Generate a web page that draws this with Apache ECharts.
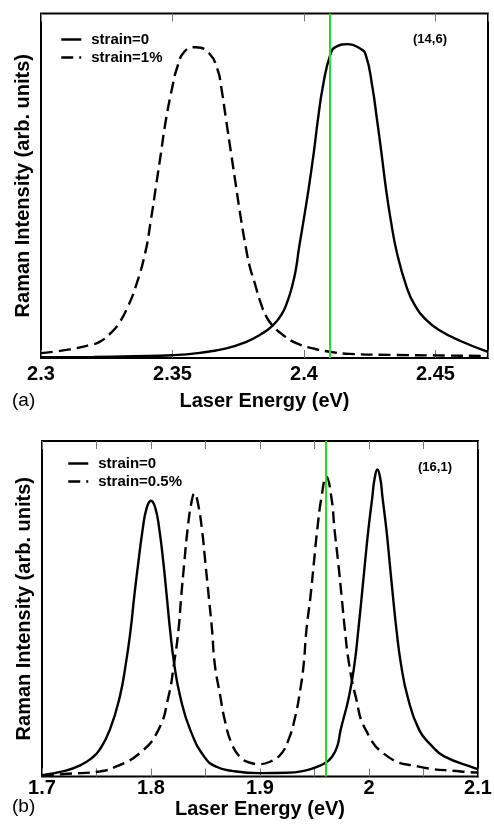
<!DOCTYPE html>
<html>
<head>
<meta charset="utf-8">
<script src="https://cdn.jsdelivr.net/npm/echarts@6/dist/echarts.min.js"></script>
<style>
html,body{margin:0;padding:0;background:#fff;}
#chart{width:494px;height:825px;}
</style>
</head>
<body>
<div id="chart"></div>
<script>
// ---------- Panel (a): (14,6) ----------
const aEnergy0 = [2.300, 2.320, 2.335, 2.350, 2.3604, 2.3705, 2.3781, 2.3832, 2.3880, 2.3914, 2.3939, 2.3958, 2.3971, 2.3980, 2.3999, 2.4019, 2.4037, 2.4053, 2.4072, 2.4100, 2.4123, 2.4168, 2.4212, 2.4235, 2.4260, 2.4278, 2.4295, 2.4311, 2.4330, 2.4354, 2.4390, 2.4421, 2.4466, 2.4517, 2.4593, 2.4700];
const aInten0  = [0.002, 0.003, 0.005, 0.008, 0.015, 0.028, 0.047, 0.067, 0.093, 0.125, 0.168, 0.217, 0.265, 0.313, 0.401, 0.497, 0.594, 0.691, 0.788, 0.880, 0.904, 0.911, 0.899, 0.880, 0.788, 0.691, 0.594, 0.497, 0.401, 0.304, 0.207, 0.154, 0.110, 0.080, 0.050, 0.018];
const aEnergy1 = [2.300, 2.311, 2.3187, 2.3221, 2.3265, 2.3300, 2.3332, 2.3360, 2.3396, 2.3418, 2.3437, 2.3456, 2.3475, 2.3500, 2.3515, 2.3545, 2.3589, 2.3640, 2.3672, 2.3685, 2.3704, 2.3723, 2.3742, 2.3761, 2.3781, 2.3794, 2.3813, 2.3832, 2.3857, 2.3882, 2.3920, 2.3971, 2.4034, 2.4098, 2.4174, 2.4340, 2.4700];
const aInten1  = [0.014, 0.025, 0.038, 0.046, 0.072, 0.105, 0.152, 0.207, 0.304, 0.401, 0.497, 0.594, 0.691, 0.788, 0.836, 0.889, 0.902, 0.884, 0.836, 0.788, 0.691, 0.594, 0.497, 0.401, 0.313, 0.265, 0.217, 0.168, 0.120, 0.093, 0.067, 0.043, 0.028, 0.018, 0.012, 0.009, 0.006];
const aNames = ['strain=0', 'strain=1%'];
const aTicks = [2.3, 2.35, 2.4, 2.45];
const aLaser = 2.41;
const aTube = '(14,6)';

// ---------- Panel (b): (16,1) ----------
const bEnergy0 = [1.700, 1.720, 1.735, 1.746, 1.7529, 1.7622, 1.7714, 1.7770, 1.7813, 1.7846, 1.7883, 1.7923, 1.7960, 1.8000, 1.8040, 1.8077, 1.8114, 1.8145, 1.8175, 1.8212, 1.8268, 1.8360, 1.8493, 1.8600, 1.8754, 1.9000, 1.9246, 1.9431, 1.9523, 1.9600, 1.9661, 1.9708, 1.9740, 1.9816, 1.9868, 1.9902, 1.9933, 1.9963, 1.9994, 2.0031, 2.0050, 2.0077, 2.0105, 2.0123, 2.0160, 2.0190, 2.0220, 2.0252, 2.0292, 2.0354, 2.0460, 2.0580, 2.0690, 2.0970, 2.1000];
const bInten0  = [0.004, 0.016, 0.033, 0.056, 0.080, 0.139, 0.238, 0.338, 0.437, 0.536, 0.636, 0.735, 0.800, 0.822, 0.800, 0.735, 0.636, 0.536, 0.437, 0.338, 0.238, 0.139, 0.057, 0.029, 0.016, 0.010, 0.011, 0.019, 0.029, 0.041, 0.059, 0.089, 0.139, 0.238, 0.338, 0.437, 0.536, 0.636, 0.735, 0.834, 0.885, 0.915, 0.885, 0.834, 0.735, 0.636, 0.536, 0.437, 0.338, 0.238, 0.139, 0.090, 0.060, 0.025, 0.022];
const bEnergy1 = [1.700, 1.723, 1.753, 1.7683, 1.7898, 1.8068, 1.8160, 1.8212, 1.8252, 1.8277, 1.8305, 1.8335, 1.8370, 1.8400, 1.8430, 1.8468, 1.8499, 1.8530, 1.8560, 1.8585, 1.8631, 1.8677, 1.8739, 1.8815, 1.8908, 1.9000, 1.9092, 1.9185, 1.9261, 1.9323, 1.9369, 1.9400, 1.9426, 1.9463, 1.9494, 1.9525, 1.9565, 1.9608, 1.9654, 1.9684, 1.9718, 1.9749, 1.9779, 1.9816, 1.9878, 1.9970, 2.0170, 2.0446, 2.0840, 2.1000];
const bInten1  = [0.002, 0.008, 0.015, 0.030, 0.070, 0.139, 0.238, 0.338, 0.437, 0.536, 0.636, 0.735, 0.815, 0.844, 0.815, 0.735, 0.636, 0.536, 0.437, 0.335, 0.248, 0.168, 0.099, 0.059, 0.041, 0.037, 0.044, 0.064, 0.109, 0.178, 0.258, 0.332, 0.437, 0.536, 0.636, 0.735, 0.834, 0.894, 0.834, 0.735, 0.636, 0.536, 0.437, 0.338, 0.238, 0.139, 0.060, 0.030, 0.015, 0.012];
const bNames = ['strain=0', 'strain=0.5%'];
const bTicks = [1.7, 1.8, 1.9, 2.0, 2.1];
const bLaser = 1.96;
const bTube = '(16,1)';

const xTitle = 'Laser Energy (eV)';
const yTitle = 'Raman Intensity (arb. units)';
const panelTags = ['(a)', '(b)'];

// ---------- build ----------
const FONT = 'Liberation Sans, Arial, Helvetica, sans-serif';
const zip = (xs, ys) => xs.map((x, i) => [x, ys[i]]);
const isTick = (list) => (v) => list.some(t => Math.abs(t - v) < 1e-6) ? String(+v.toFixed(2)) : '';
const GREEN = '#22dd22';

function bottomAxis(gi, min, max, ticks, margin, nameGap) {
  return {
    type: 'value', gridIndex: gi, position: 'bottom', min, max, interval: 0.05,
    axisLine: { show: false },
    axisTick: { show: true, inside: true, length: 8, lineStyle: { color: '#777', width: 1 } },
    axisLabel: { show: true, margin, color: '#000', fontSize: 20, fontWeight: 'bold', fontFamily: FONT,
                 formatter: isTick(ticks), showMaxLabel: true, showMinLabel: true, hideOverlap: false },
    splitLine: { show: false },
    name: xTitle, nameLocation: 'middle', nameGap,
    nameTextStyle: { color: '#000', fontSize: 20, fontWeight: 'bold', fontFamily: FONT }
  };
}
function topAxis(gi, min, max) {
  return {
    type: 'value', gridIndex: gi, position: 'top', min, max, interval: 0.05,
    axisLine: { show: false },
    axisTick: { show: true, inside: true, length: 8, lineStyle: { color: '#777', width: 1 } },
    axisLabel: { show: false }, splitLine: { show: false }
  };
}
function yAxisDef(gi) {
  return {
    type: 'value', gridIndex: gi, min: 0, max: 1,
    axisLine: { show: false }, axisTick: { show: false }, axisLabel: { show: false }, splitLine: { show: false },
    name: yTitle, nameLocation: 'middle', nameGap: 8,
    nameTextStyle: { color: '#000', fontSize: 20, fontWeight: 'bold', fontFamily: FONT }
  };
}
function lineSeries(name, xi, yi, data, dashed, laser) {
  const s = {
    type: 'line', name, xAxisIndex: xi, yAxisIndex: yi, data,
    symbol: 'none', showSymbol: false, smooth: 0.5,
    lineStyle: { color: '#000', width: 2.4, type: dashed ? [12, 6] : 'solid' },
    itemStyle: { color: '#000' }, z: 3
  };
  if (laser !== undefined) {
    s.markLine = {
      silent: true, symbol: ['none', 'none'], animation: false,
      label: { show: false },
      lineStyle: { color: GREEN, width: 2, type: 'solid' },
      data: [{ xAxis: laser }]
    };
  }
  return s;
}
function legendDef(gi, left, top, names) {
  return {
    show: true, orient: 'vertical', left, top, padding: 0, itemGap: 3,
    itemWidth: 20, itemHeight: 14, data: names, selectedMode: false,
    itemStyle: { opacity: 0, color: 'transparent', borderWidth: 0 },
    lineStyle: { width: 2.5, opacity: 1 },
    textStyle: { color: '#000', fontSize: 15, fontWeight: 'bold', fontFamily: FONT, padding: [0, 0, 0, 5] }
  };
}

const option = {
  animation: false,
  backgroundColor: '#fff',
  grid: [
    { left: 41, top: 13.5, width: 447, height: 344.5, show: true, borderColor: '#000', borderWidth: 2, backgroundColor: 'transparent', containLabel: false, outerBoundsMode: 'none' },
    { left: 42, top: 441, width: 436, height: 335.5, show: true, borderColor: '#000', borderWidth: 2, backgroundColor: 'transparent', containLabel: false, outerBoundsMode: 'none' }
  ],
  xAxis: [
    bottomAxis(0, 2.3, 2.47, aTicks, 6, 33),
    topAxis(0, 2.3, 2.47),
    bottomAxis(1, 1.7, 2.1, bTicks, 2, 21),
    topAxis(1, 1.7, 2.1)
  ],
  yAxis: [yAxisDef(0), yAxisDef(1)],
  legend: [legendDef(0, 60, 32, aNames), legendDef(1, 67, 456, bNames)],
  series: [
    lineSeries(aNames[0], 0, 0, zip(aEnergy0, aInten0), false, aLaser),
    lineSeries(aNames[1], 0, 0, zip(aEnergy1, aInten1), true),
    lineSeries(bNames[0], 2, 1, zip(bEnergy0, bInten0), false, bLaser),
    lineSeries(bNames[1], 2, 1, zip(bEnergy1, bInten1), true)
  ],
  graphic: [
    { type: 'text', left: 413, top: 33, style: { text: aTube, fill: '#000', font: 'bold 13px ' + FONT } },
    { type: 'text', left: 418, top: 461, style: { text: bTube, fill: '#000', font: 'bold 13px ' + FONT } },
    { type: 'text', left: 12, top: 391, style: { text: panelTags[0], fill: '#000', font: '19px ' + FONT } },
    { type: 'text', left: 12, top: 797, style: { text: panelTags[1], fill: '#000', font: '19px ' + FONT } }
  ]
};

const chart = echarts.init(document.getElementById('chart'), null, { renderer: 'canvas' });
chart.setOption(option);
</script>
</body>
</html>
